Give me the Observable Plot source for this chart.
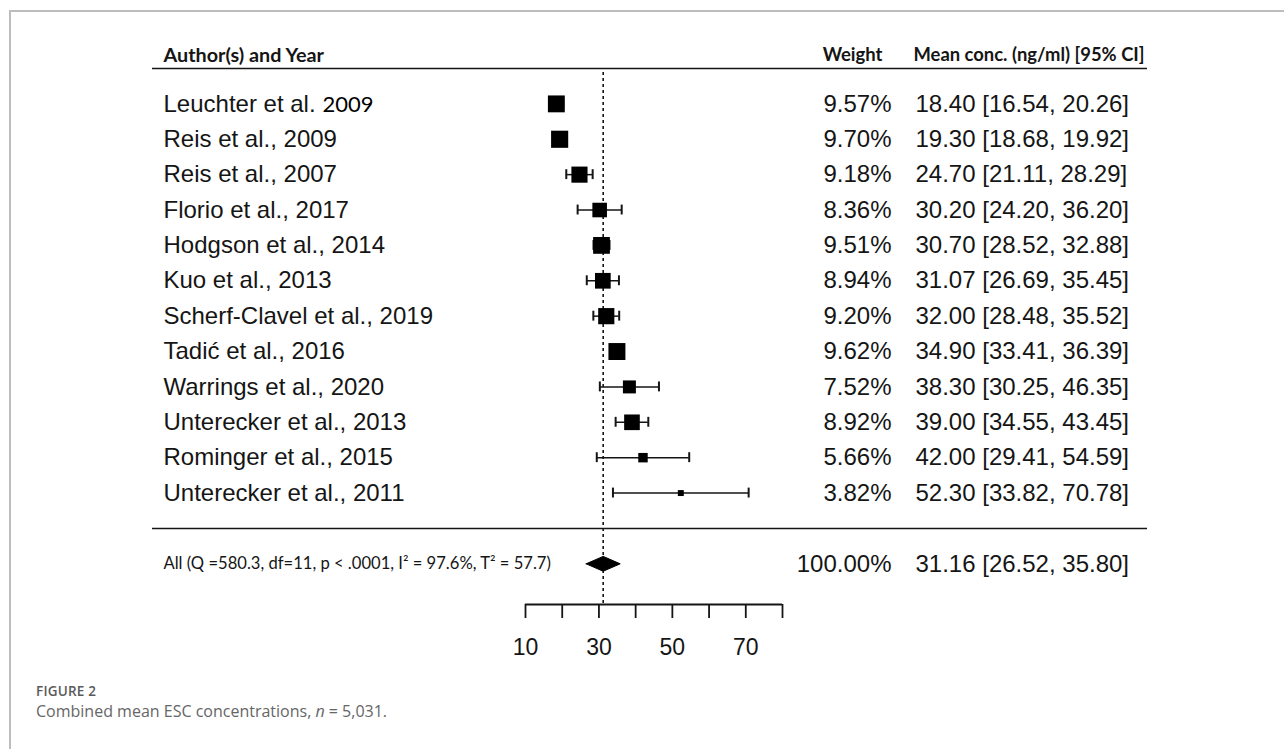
<!DOCTYPE html>
<html>
<head>
<meta charset="utf-8">
<script src="https://cdn.jsdelivr.net/npm/d3@7"></script>
<script src="https://cdn.jsdelivr.net/npm/@observablehq/plot@0.6"></script>
<style>
  html, body { margin: 0; padding: 0; background: #fff; }
  #wrap { position: relative; width: 1284px; height: 749px; overflow: hidden; }
  #border { position: absolute; left: 9px; top: 10px; right: -5px; bottom: -5px; border-top: 2px solid #bdbdbd; border-left: 2px solid #bdbdbd; }
  #chart { position: absolute; left: 0; top: 0; }
  .fig { position: absolute; left: 36px; font-family: "Open Sans", sans-serif; color: #5a5a5a; white-space: nowrap; }
  #figlabel { top: 683px; font-size: 13.5px; line-height: 16px; font-weight: 600; letter-spacing: 0.2px; }
  #figcap { top: 701px; font-size: 16px; line-height: 20px; color: #666; }
</style>
</head>
<body>
<div id="wrap">
  <div id="border"></div>
  <div id="chart"></div>
  <div class="fig" id="figlabel">FIGURE 2</div>
  <div class="fig" id="figcap">Combined mean ESC concentrations, <i>n</i> = 5,031.</div>
</div>
<script>
const authors = ["Leuchter et al. 2009", "Reis et al., 2009", "Reis et al., 2007", "Florio et al., 2017",
  "Hodgson et al., 2014", "Kuo et al., 2013", "Scherf-Clavel et al., 2019", "Tadić et al., 2016",
  "Warrings et al., 2020", "Unterecker et al., 2013", "Rominger et al., 2015", "Unterecker et al., 2011"];
const weights = [9.57, 9.70, 9.18, 8.36, 9.51, 8.94, 9.20, 9.62, 7.52, 8.92, 5.66, 3.82];
const means = [18.40, 19.30, 24.70, 30.20, 30.70, 31.07, 32.00, 34.90, 38.30, 39.00, 42.00, 52.30];
const lower = [16.54, 18.68, 21.11, 24.20, 28.52, 26.69, 28.48, 33.41, 30.25, 34.55, 29.41, 33.82];
const upper = [20.26, 19.92, 28.29, 36.20, 32.88, 35.45, 35.52, 36.39, 46.35, 43.45, 54.59, 70.78];

const summaryLabel = "All (Q =580.3, df=11, p < .0001, I\u00B2 = 97.6%, T\u00B2 = 57.7)";
const summaryWeight = 100.00;
const summaryMean = 31.16;
const summaryLower = 26.52;
const summaryUpper = 35.80;

const headerLeft = "Author(s) and Year";
const headerWeight = "Weight";
const headerMean = "Mean conc. (ng/ml) [95% CI]";
const axisTicks = [10, 20, 30, 40, 50, 60, 70, 80];
const axisLabels = [10, 30, 50, 70];

const rows = authors.map((a, i) => {
  const m = a.match(/^(.*\.) (\d{4})$/);
  return {
    i, label: m ? m[1] : a, year: m ? m[2] : null,
    w: weights[i], m: means[i], lo: lower[i], hi: upper[i]
  };
});
const fmt = v => v.toFixed(2);
const SUMROW = 13;
const diamondH = 0.21;
const diamond = [
  {x: summaryLower, y: SUMROW}, {x: summaryMean, y: SUMROW - diamondH},
  {x: summaryUpper, y: SUMROW}, {x: summaryMean, y: SUMROW + diamondH}, {x: summaryLower, y: SUMROW}
];
const arial = "Liberation Sans, Arial, sans-serif";
const calibri = "Lato, Open Sans, sans-serif";
const ink = "#151515";
const yBottom = 14.15;

const chart = Plot.plot({
  width: 1284, height: 680,
  marginLeft: 152, marginRight: 137, marginTop: 68, marginBottom: 76,
  x: {domain: [10, 80], range: [525, 782]},
  y: {domain: [-1, yBottom], range: [68, 604], axis: null},
  r: {type: "identity"},
  style: {fontFamily: arial, background: "transparent", color: ink},
  marks: [
    // header
    Plot.text([headerLeft], {frameAnchor: "left", y: -1, dy: -13, dx: 11, text: d => d, textAnchor: "start",
      fontFamily: calibri, fontWeight: "bold", fontSize: 19.8, fill: ink}),
    Plot.text([headerWeight], {frameAnchor: "right", y: -1, dy: -13, dx: -265, text: d => d, textAnchor: "end",
      fontFamily: calibri, fontWeight: "bold", fontSize: 18.5, fill: ink}),
    Plot.text([headerMean], {frameAnchor: "right", y: -1, dy: -13, dx: -234, text: d => d, textAnchor: "start",
      fontFamily: calibri, fontWeight: "bold", fontSize: 18.4, fill: ink}),
    Plot.ruleY([-1], {stroke: ink, strokeWidth: 1.6}),
    Plot.ruleY([12], {stroke: ink, strokeWidth: 1.6}),
    // reference line at summary estimate
    Plot.ruleX([summaryMean], {y1: -0.89, y2: yBottom, stroke: ink, strokeWidth: 1.6, strokeDasharray: "3,3"}),
    // CI lines and caps
    Plot.ruleY(rows, {y: "i", x1: "lo", x2: "hi", stroke: ink, strokeWidth: 1.5}),
    Plot.ruleX(rows, {x: "lo", y1: d => d.i - 0.14, y2: d => d.i + 0.14, stroke: ink, strokeWidth: 2}),
    Plot.ruleX(rows, {x: "hi", y1: d => d.i - 0.14, y2: d => d.i + 0.14, stroke: ink, strokeWidth: 2}),
    // squares sized by weight
    Plot.dot(rows, {x: "m", y: "i", symbol: "square", r: d => (1.9 * d.w - 1.3) / Math.sqrt(Math.PI), fill: "black", stroke: "none"}),
    // labels
    Plot.text(rows, {frameAnchor: "left", y: "i", dx: 11, text: "label", textAnchor: "start", fontSize: 24, fill: ink}),
    Plot.text(rows.filter(d => d.year), {frameAnchor: "left", y: "i", dx: 170, dy: 1, text: "year", textAnchor: "start",
      fontFamily: calibri, fontSize: 22, fill: "black"}),
    Plot.text(rows, {frameAnchor: "right", y: "i", dx: -256, text: d => fmt(d.w) + "%", textAnchor: "end", fontSize: 24, fill: ink}),
    Plot.text(rows, {frameAnchor: "right", y: "i", dx: -232, text: d => `${fmt(d.m)} [${fmt(d.lo)}, ${fmt(d.hi)}]`, textAnchor: "start", fontSize: 24, fill: ink}),
    // summary
    Plot.line(diamond, {x: "x", y: "y", fill: "black", stroke: "black", strokeWidth: 1}),
    Plot.text([summaryLabel], {frameAnchor: "left", y: SUMROW, dx: 11, text: d => d, textAnchor: "start",
      fontFamily: calibri, fontSize: 16.6, fill: ink}),
    Plot.text([summaryWeight], {frameAnchor: "right", y: SUMROW, dx: -256, text: d => fmt(d) + "%", textAnchor: "end", fontSize: 24, fill: ink}),
    Plot.text([0], {frameAnchor: "right", y: SUMROW, dx: -232, text: () => `${fmt(summaryMean)} [${fmt(summaryLower)}, ${fmt(summaryUpper)}]`, textAnchor: "start", fontSize: 24, fill: ink}),
    // axis
    Plot.ruleY([yBottom], {x1: 10, x2: 80, stroke: ink, strokeWidth: 1.8}),
    Plot.axisX({ticks: axisTicks, anchor: "bottom", tickSize: 14, tickPadding: 20, strokeWidth: 1.8,
      tickFormat: d => axisLabels.includes(d) ? String(d) : "", fontSize: 23, fill: ink, stroke: ink, label: null})
  ]
});
document.getElementById("chart").appendChild(chart);
</script>
</body>
</html>
